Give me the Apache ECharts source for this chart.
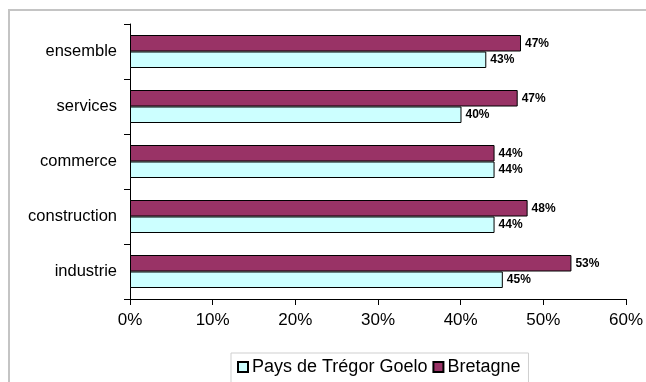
<!DOCTYPE html>
<html><head><meta charset="utf-8">
<script src="https://cdn.jsdelivr.net/npm/echarts@6/dist/echarts.min.js"></script>
<style>html,body{margin:0;padding:0;background:#fff}#c{width:646px;height:382px}</style>
</head><body><div id="c"></div>
<script>
var categories = ['industrie', 'construction', 'commerce', 'services', 'ensemble'];
var paysValues = [45.1, 44.1, 44.1, 40.1, 43.1];
var bretagneValues = [53.4, 48.1, 44.1, 46.9, 47.3];
var seriesNames = ['Pays de Trégor Goelo', 'Bretagne'];
var xTicks = [0, 10, 20, 30, 40, 50, 60];

var font = 'Liberation Sans, Arial, sans-serif';
var chart = echarts.init(document.getElementById('c'), null, {renderer: 'canvas'});
var lbl = {
  show: true, position: 'right', distance: 4,
  formatter: function (p) { return Math.round(p.value) + '%'; },
  color: '#000', fontWeight: 'bold', fontSize: 12, fontFamily: font
};
chart.setOption({
  animation: false,
  textStyle: {fontFamily: font},
  graphic: [{
    type: 'polyline', silent: true,
    shape: {points: [[9, 382], [9, 10], [646, 10]]},
    style: {stroke: '#c4c4c4', lineWidth: 2, fill: null}
  }],
  grid: {left: 130, top: 24, width: 496, height: 275, containLabel: false},
  legend: {
    left: 231, top: 353, width: 296,
    padding: [5, 8, 14, 6],
    borderColor: '#cfcfcf', borderWidth: 1,
    itemWidth: 10, itemHeight: 10, itemGap: 5,
    icon: 'rect',
    textStyle: {fontSize: 18, color: '#000', fontFamily: font, padding: [0, 0, 0, -1]},
    data: seriesNames
  },
  xAxis: {
    type: 'value', min: xTicks[0], max: xTicks[xTicks.length - 1], interval: 10,
    axisLine: {show: true, lineStyle: {color: '#000', width: 1}},
    axisTick: {show: true, length: 6, lineStyle: {color: '#000'}},
    splitLine: {show: false},
    axisLabel: {formatter: '{value}%', fontSize: 17, color: '#000', margin: 13, fontFamily: font}
  },
  yAxis: {
    type: 'category', data: categories,
    axisLine: {show: true, lineStyle: {color: '#000', width: 1}},
    axisTick: {show: true, length: 6, lineStyle: {color: '#000'}},
    axisLabel: {fontSize: 16.5, color: '#000', margin: 13, fontFamily: font}
  },
  series: [{
    name: seriesNames[1], type: 'bar', data: bretagneValues,
    barGap: '0%', barCategoryGap: '40%',
    itemStyle: {color: '#993366', borderColor: '#000', borderWidth: 1},
    label: lbl
  }, {
    name: seriesNames[0], type: 'bar', data: paysValues,
    barGap: '0%', barCategoryGap: '40%',
    itemStyle: {color: '#CCFFFF', borderColor: '#000', borderWidth: 1},
    label: lbl
  }]
});
</script></body></html>
